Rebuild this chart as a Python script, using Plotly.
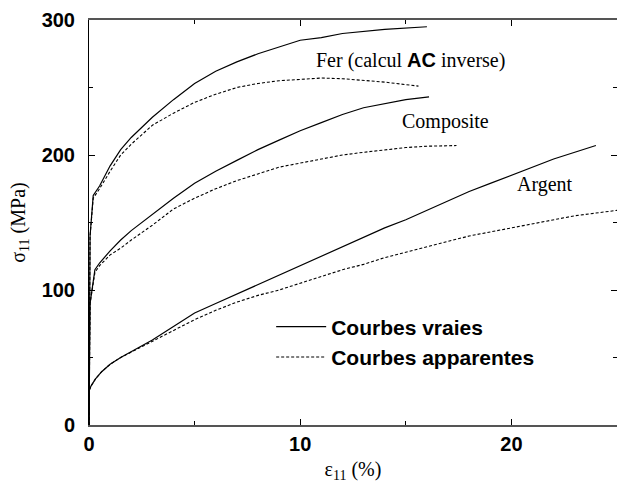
import plotly.graph_objects as go

# Stress-strain curves: true ("vraies") and apparent ("apparentes") responses
fer_x_vraie = [0, 0.05, 0.2, 0.5, 1.0, 1.5, 2, 3, 4, 5, 6, 7, 8, 9, 10, 11, 12, 14, 16]
fer_y_vraie = [0, 140, 170, 177, 192, 204, 213, 228, 241, 253, 262, 269, 275, 280, 285, 287, 290, 293, 295]

fer_x_app = [0, 0.05, 0.2, 0.5, 1, 1.5, 2, 3, 4, 5, 6, 7, 8, 9, 10, 11, 12, 13, 14, 15.6]
fer_y_app = [0, 140, 168, 175, 188, 200, 208, 222, 231, 239, 245, 250, 253, 255, 256, 257, 256.5, 255, 254, 251]

comp_x_vraie = [0, 0.05, 0.28, 0.5, 1, 1.5, 2, 3, 4, 5, 6, 7, 8, 9, 10, 11, 12, 13, 14, 15, 16.1]
comp_y_vraie = [0, 90, 115, 120, 129, 137, 144, 156, 168, 179, 188, 196, 204, 211, 218, 224, 230, 235, 238, 241, 243]

comp_x_app = [0, 0.05, 0.28, 0.5, 1, 1.5, 2, 3, 4, 5, 6, 7, 8, 9, 10, 11, 12, 13, 14, 15, 16, 17.4]
comp_y_app = [0, 90, 113, 118, 126, 131, 137, 148, 160, 168, 175, 181, 186, 191, 194, 197, 200, 202, 204, 205.5, 206.5, 207]

arg_x_vraie = [0, 0.02, 0.1, 0.3, 0.6, 1.0, 1.5, 2, 3, 4, 5, 6, 7, 8, 9, 10, 11, 12, 13, 14, 15, 16, 17, 18, 19, 20, 21, 22, 23, 24]
arg_y_vraie = [0, 26, 29, 34, 39.5, 45, 50, 54.5, 63, 73, 83, 90, 97, 104, 111, 118, 125, 132, 139, 146, 152, 159, 166, 173, 179, 185, 191, 197, 202, 207]

arg_x_app = [0, 0.02, 0.1, 0.3, 0.6, 1.0, 1.5, 2, 3, 4, 5, 6, 7, 8, 9, 10, 11, 12, 13, 14, 15, 16, 17, 18, 19, 20, 21, 22, 23, 24, 25]
arg_y_app = [0, 26, 29, 34, 39.5, 45, 50, 54, 62, 70, 78, 85, 91, 96, 100, 105, 110, 115, 119, 124, 128, 132, 136, 140, 143, 146, 149, 152, 155, 157, 159]

x_ticks = [0, 10, 20]
y_ticks = [0, 100, 200, 300]

SERIF = "Liberation Serif"
SANS = "Liberation Sans"

solid = dict(color="black", width=1.2)
dashed = dict(color="black", width=1.1, dash="3px,2px")

fig = go.Figure()
curves = [
    (fer_x_vraie, fer_y_vraie, solid, "Courbes vraies", True),
    (fer_x_app, fer_y_app, dashed, "Courbes apparentes", True),
    (comp_x_vraie, comp_y_vraie, solid, "Courbes vraies", False),
    (comp_x_app, comp_y_app, dashed, "Courbes apparentes", False),
    (arg_x_vraie, arg_y_vraie, solid, "Courbes vraies", False),
    (arg_x_app, arg_y_app, dashed, "Courbes apparentes", False),
]
for xs, ys, line, name, show in curves:
    fig.add_trace(go.Scatter(x=xs, y=ys, mode="lines", line=line, name=name,
                             showlegend=show, hoverinfo="skip"))

labels = [
    (15.2, 270, "Fer (calcul <span style='font-family:Liberation Sans'><b>AC</b></span> inverse)"),
    (16.9, 225, "Composite"),
    (21.6, 178, "Argent"),
]
for lx, ly, txt in labels:
    fig.add_annotation(x=lx, y=ly, text=txt, showarrow=False,
                       font=dict(family=SERIF, size=20, color="black"))

axis_common = dict(
    showgrid=False, zeroline=False, ticks="inside", ticklen=6, tickwidth=1,
    tickcolor="black", mirror="ticks", showline=True,
    tickfont=dict(family=SANS, size=20, color="black", weight="bold"),
)

fig.update_xaxes(range=[0, 25], tickvals=x_ticks, linecolor="#555", linewidth=1.5,
                 minor=dict(dtick=5, ticks="inside", ticklen=4, tickcolor="black"),
                 title=dict(text="ε<sub>11</sub> (%)", standoff=8,
                            font=dict(family=SERIF, size=20, color="black")),
                 **axis_common)
fig.update_yaxes(range=[0, 300], tickvals=y_ticks, linecolor="black", linewidth=1,
                 ticklabelstandoff=9,
                 minor=dict(dtick=50, ticks="inside", ticklen=4, tickcolor="black"),
                 title=dict(text="σ<sub>11</sub> (MPa)", standoff=10,
                            font=dict(family=SERIF, size=20, color="black")),
                 **axis_common)

fig.update_layout(
    width=617, height=484,
    margin=dict(l=89, r=0, t=20, b=59),
    paper_bgcolor="white", plot_bgcolor="white",
    legend=dict(x=0.345, y=0.205, xanchor="left", yanchor="middle",
                bgcolor="rgba(0,0,0,0)", itemwidth=50, tracegroupgap=0,
                font=dict(family=SANS, size=21, color="black", weight="bold")),
)

fig.write_html("out.html")
